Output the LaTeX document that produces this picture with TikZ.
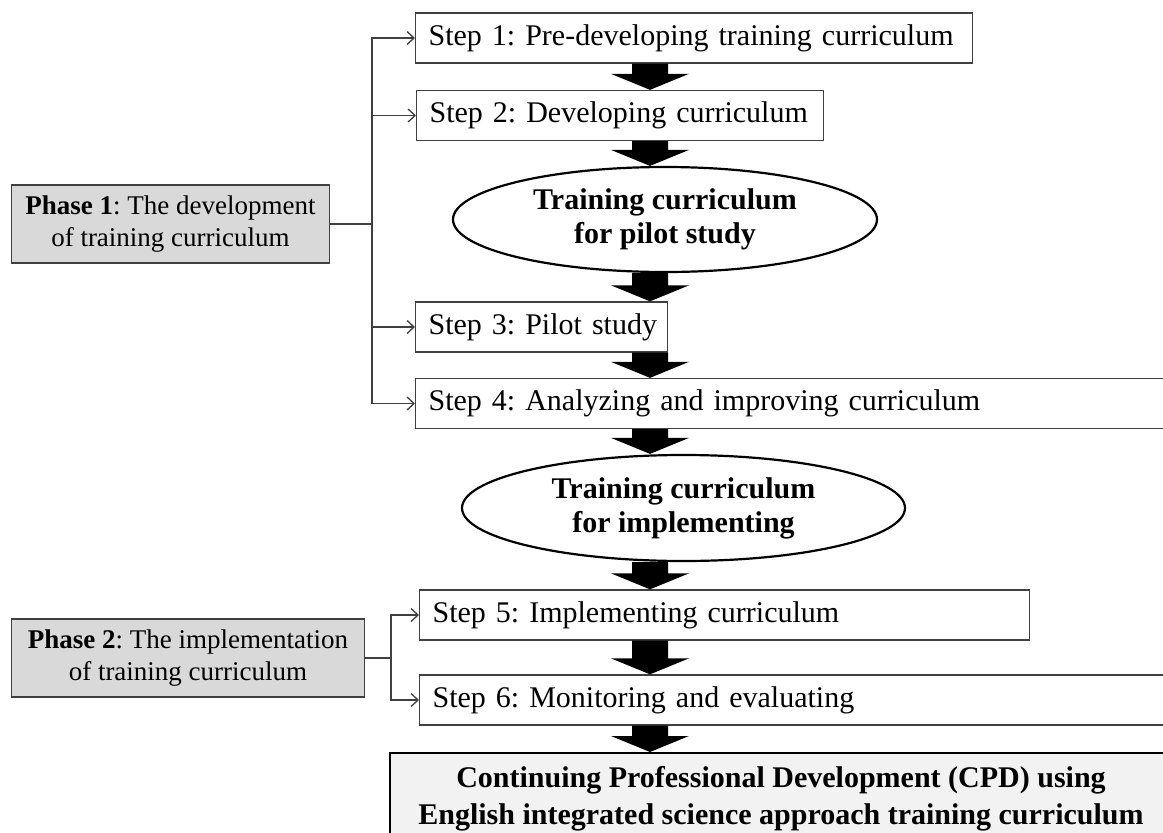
\documentclass[tikz,border=0pt]{standalone}
\usepackage{fontspec}
\setmainfont{Liberation Serif}
\frenchspacing
\hyphenpenalty=10000
\usetikzlibrary{arrows.meta,shapes.geometric,calc}
\definecolor{edgegray}{HTML}{404040}
\definecolor{phasefill}{HTML}{D9D9D9}
\definecolor{cpdfill}{HTML}{F2F2F2}
\begin{document}
\begin{tikzpicture}[x=1pt,y=-1pt,
  stepbox/.style={draw=edgegray, line width=1.3pt, fill=white, anchor=west,
    minimum height=50pt, inner xsep=13pt, inner ysep=0pt, align=left,
    font=\fontsize{30}{34}\selectfont},
  phasebox/.style={draw=edgegray, line width=1.3pt, fill=phasefill,
    minimum height=78pt, inner sep=0pt, align=center,
    font=\fontsize{27}{32}\selectfont},
  ellbox/.style={ellipse, draw=black, line width=2.2pt, fill=white,
    inner sep=0pt, align=center, font=\fontsize{30}{34}\selectfont\bfseries},
  cpdbox/.style={draw=black, line width=2pt, fill=cpdfill, inner sep=0pt,
    align=center, font=\fontsize{30}{37}\selectfont\bfseries},
  link/.style={draw=edgegray, line width=1.3pt},
  linkarrow/.style={link, -{Straight Barb[length=7pt,width=13pt]}},
  fat/.style={fill=black, to path={let \p1=(\tikztostart), \p2=(\tikztotarget) in
    (\x1-18pt,\y1) -- (\x1+18pt,\y1) -- (\x1+18pt,\y2+16pt) -- (\x1+39pt,\y2+16pt)
    -- (\x2,\y2) -- (\x1-39pt,\y2+16pt) -- (\x1-18pt,\y2+16pt) -- cycle}}
]
\useasboundingbox (0,0) rectangle (1163,833);
\fill[white] (0,0) rectangle (1163,833);

% phases
\node[phasebox, minimum width=317.5pt] (p1) at (170.5,224) {\textbf{Phase 1}: The development\\of training curriculum};
\node[phasebox, minimum width=352.5pt] (p2) at (188,658) {\textbf{Phase 2}: The implementation\\of training curriculum};

% steps
\node[stepbox, text width=531pt] (s1) at (415,38) {\mbox{Step 1: Pre-developing training curriculum}};
\node[stepbox, text width=381pt] (s2) at (416,115.5) {\mbox{Step 2: Developing curriculum}};
\node[ellbox, minimum width=424pt, minimum height=105pt] (e1) at (665,219.5) {Training curriculum\\for pilot study};
\node[stepbox, text width=226pt] (s3) at (415,327) {\mbox{Step 3: Pilot study}};
\node[stepbox, text width=734pt] (s4) at (415,403.5) {\mbox{Step 4: Analyzing and improving curriculum}};
\node[ellbox, minimum width=443pt, minimum height=106pt] (e2) at (683.5,508) {Training curriculum\\for implementing};
\node[stepbox, text width=584pt] (s5) at (419,615) {\mbox{Step 5: Implementing curriculum}};
\node[stepbox, text width=734pt] (s6) at (419,700) {\mbox{Step 6: Monitoring and evaluating}};
\node[cpdbox, minimum width=782pt, minimum height=92pt] (cpd) at (781,799) {Continuing Professional Development (CPD) using\\English integrated science approach training curriculum};

% fat arrows
\coordinate (ax) at (650,0);
\path[fat] (s1.south -| ax) to (s2.north -| ax);
\path[fat] (s2.south -| ax) to (e1.north -| ax);
\path[fat] (e1.south -| ax) to (s3.north -| ax);
\path[fat] (s3.south -| ax) to (s4.north -| ax);
\path[fat] (s4.south -| ax) to (e2.north -| ax);
\path[fat] (e2.south -| ax) to (s5.north -| ax);
\path[fat] (s5.south -| ax) to (s6.north -| ax);
\path[fat] (s6.south -| ax) to (cpd.north -| ax);

% phase connectors
\coordinate (j1) at (372,224);
\draw[link] (p1.east) -- (j1);
\draw[linkarrow] (j1) |- (s1.west);
\draw[linkarrow] (j1) |- (s2.west);
\draw[linkarrow] (j1) |- (s3.west);
\draw[linkarrow] (j1) |- (s4.west);

\coordinate (j2) at (391,658);
\draw[link] (p2.east) -- (j2);
\draw[linkarrow] (j2) |- (s5.west);
\draw[linkarrow] (j2) |- (s6.west);
\end{tikzpicture}
\end{document}
